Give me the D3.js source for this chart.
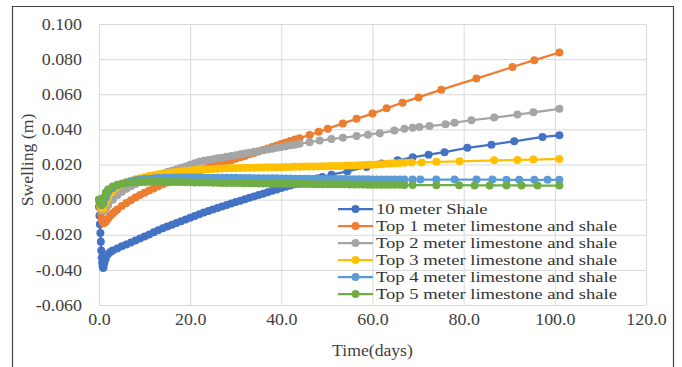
<!DOCTYPE html>
<html>
<head>
<meta charset="utf-8">
<script src="https://d3js.org/d3.v7.min.js"></script>
<style>
  body { margin: 0; background: #fff; }
  svg text { font-family: "Liberation Serif", "Times New Roman", serif; fill: #404040; }
</style>
</head>
<body>
<svg></svg>
<script>
// values: [time (days), swelling (m)]
const shale10 = [[0,-0.004],[0.1,-0.009],[0.2,-0.014],[0.3,-0.019],[0.4,-0.024],[0.5,-0.029],[0.6,-0.033],[0.7,-0.036],[0.8,-0.038],[0.9,-0.039],[1,-0.0385],[1.2,-0.036],[1.5,-0.0335],[2,-0.031],[2.5,-0.0298],[3,-0.029],[4,-0.0278],[5,-0.0266],[6,-0.0255],[7,-0.0244],[8,-0.0233],[9,-0.0222],[10,-0.021],[11,-0.0198],[12,-0.0186],[13,-0.0174],[14,-0.0163],[15,-0.0153],[16,-0.0143],[17,-0.0133],[18,-0.0123],[19,-0.0113],[20,-0.0103],[21,-0.0093],[22,-0.0083],[23,-0.0074],[24,-0.0065],[25,-0.0056],[26,-0.0047],[27,-0.0039],[28,-0.003],[29,-0.0022],[30,-0.0014],[31,-0.0006],[32,0.0002],[33,0.001],[34,0.0018],[35,0.0026],[36,0.0034],[37,0.0042],[38,0.005],[39,0.0058],[40,0.0066],[41,0.0073],[42,0.008],[43,0.0087],[44,0.0094],[45,0.0101],[46,0.0108],[47,0.0115],[48,0.0122],[49,0.0129],[51,0.0142],[54.5,0.0161],[58.7,0.0186],[62,0.0205],[65.5,0.0224],[68.8,0.0241],[72.3,0.0256],[75.8,0.027],[80.8,0.0295],[86.1,0.0313],[91.1,0.0332],[97.3,0.0357],[101,0.0366]];
const top1 = [[0,0],[0.2,-0.004],[0.4,-0.008],[0.6,-0.011],[0.8,-0.0128],[1,-0.0134],[1.3,-0.013],[1.6,-0.0121],[2,-0.0107],[2.5,-0.0092],[3,-0.0079],[3.5,-0.0067],[4,-0.0056],[5,-0.0037],[6,-0.0019],[7,-0.0003],[8,0.0012],[9,0.0026],[10,0.0039],[11,0.0052],[12,0.0064],[13,0.0076],[14,0.0087],[15,0.0098],[16,0.0108],[17,0.0118],[18,0.0128],[19,0.0138],[20,0.0147],[21,0.0156],[22,0.0165],[23,0.0174],[24,0.0183],[25,0.0191],[26,0.02],[27,0.0208],[28,0.0216],[29,0.0224],[30,0.0233],[31,0.0241],[32,0.0249],[33,0.0258],[34,0.0266],[35,0.0274],[36,0.0283],[37,0.0291],[38,0.03],[39,0.0308],[40,0.0317],[41,0.0325],[42,0.0334],[43,0.0342],[44,0.035],[46.2,0.0368],[48.2,0.0386],[50.2,0.0404],[53.5,0.0434],[56.5,0.046],[60,0.049],[63.1,0.052],[66.6,0.0552],[70.1,0.0582],[75.1,0.0626],[82.8,0.0689],[90.7,0.0755],[95.5,0.0794],[101,0.0838]];
const top2 = [[0,0],[0.3,-0.004],[0.6,-0.006],[1,-0.0065],[1.5,-0.005],[2,-0.003],[3,0],[4,0.0025],[5,0.0045],[6,0.0062],[7,0.0076],[8,0.0089],[9,0.0101],[10,0.0112],[11,0.0122],[12,0.0131],[13,0.014],[14,0.0149],[15,0.0157],[16,0.0165],[17,0.0173],[18,0.0181],[19,0.0189],[20,0.0198],[21,0.0207],[22,0.0216],[23,0.0221],[24,0.0225],[25,0.023],[26,0.0235],[27,0.0239],[28,0.0244],[29,0.0248],[30,0.0253],[31,0.0258],[32,0.0262],[33,0.0267],[34,0.0272],[35,0.0276],[36,0.0281],[37,0.0286],[38,0.029],[39,0.0295],[40,0.03],[41,0.0304],[42,0.0309],[43,0.0313],[44,0.0318],[46.2,0.0327],[48.4,0.0336],[51,0.0345],[53.5,0.0353],[56.5,0.0362],[59,0.037],[61.6,0.0378],[64.8,0.0393],[67,0.0403],[68.8,0.0409],[70.3,0.0413],[72.5,0.0419],[76,0.0429],[78,0.0438],[81.7,0.0452],[86.7,0.0467],[91.8,0.0484],[95.3,0.0497],[101,0.0517]];
const top3 = [[0,0],[0.3,-0.003],[0.6,-0.005],[1,-0.005],[1.5,-0.002],[2,0.001],[3,0.0048],[4,0.0072],[5,0.0088],[6,0.0099],[7,0.0108],[8,0.0116],[9,0.0122],[10,0.0128],[11,0.0134],[12,0.0139],[13,0.0144],[14,0.0148],[15,0.0152],[16,0.0155],[17,0.0158],[18,0.0161],[19,0.0164],[20,0.0166],[21,0.0168],[22,0.017],[23,0.0172],[24,0.0173],[25,0.0175],[26,0.0176],[27,0.0177],[28,0.0178],[29,0.0179],[30,0.018],[31,0.018],[32,0.0181],[33,0.0182],[34,0.0182],[35,0.0183],[36,0.0183],[37,0.0184],[38,0.0184],[39,0.0185],[40,0.0185],[41,0.0186],[42,0.0186],[43,0.0187],[44,0.0187],[45,0.0188],[46,0.0188],[47,0.0189],[48,0.0189],[49,0.019],[50,0.019],[51,0.0191],[52,0.0192],[53,0.0192],[54,0.0193],[55,0.0194],[56,0.0195],[57,0.0196],[58,0.0197],[59,0.0198],[60,0.0199],[61,0.02],[62,0.0202],[63,0.0204],[64,0.0205],[65,0.0207],[66,0.0208],[67,0.021],[68.6,0.0212],[70.8,0.0212],[74,0.0215],[79.1,0.0218],[86.7,0.0224],[91.8,0.0226],[95.3,0.0228],[101,0.0232]];
const top4 = [[0,0],[0.3,-0.002],[0.6,-0.003],[1,-0.002],[1.5,0.001],[2,0.004],[3,0.0065],[4,0.008],[5,0.009],[6,0.0098],[7,0.0105],[8,0.011],[9,0.0114],[10,0.0117],[11,0.0119],[12,0.0121],[13,0.0123],[14,0.0124],[15,0.0125],[16,0.0125],[17,0.0126],[18,0.0126],[19,0.0126],[20,0.0126],[21,0.0126],[22,0.0126],[23,0.0125],[24,0.0125],[25,0.0125],[26,0.0125],[27,0.0124],[28,0.0124],[29,0.0124],[30,0.0124],[31,0.0123],[32,0.0123],[33,0.0123],[34,0.0122],[35,0.0122],[36,0.0122],[37,0.0121],[38,0.0121],[39,0.0121],[40,0.012],[41,0.012],[42,0.012],[43,0.0119],[44,0.0119],[45,0.0119],[46,0.0119],[47,0.0118],[48,0.0118],[49,0.0118],[50,0.0118],[51,0.0117],[52,0.0117],[53,0.0117],[54,0.0117],[55,0.0116],[56,0.0116],[57,0.0116],[58,0.0116],[59,0.0116],[60,0.0115],[61,0.0115],[62,0.0115],[63,0.0115],[64,0.0115],[65,0.0115],[66,0.0114],[67,0.0114],[68.8,0.0114],[70.5,0.0114],[74,0.0114],[78,0.0114],[82.8,0.0114],[86.3,0.0114],[89.4,0.0113],[92.2,0.0113],[95.5,0.0113],[98.4,0.0113],[101,0.0113]];
const top5 = [[0,0],[0.2,-0.002],[0.5,-0.003],[0.8,-0.001],[1,0.001],[1.5,0.004],[2,0.0058],[3,0.0075],[4,0.0084],[5,0.009],[6,0.0094],[7,0.0097],[8,0.0099],[9,0.01],[10,0.0101],[11,0.0102],[12,0.0102],[13,0.0102],[14,0.0102],[15,0.0101],[16,0.0101],[17,0.01],[18,0.01],[19,0.0099],[20,0.0099],[21,0.0098],[22,0.0098],[23,0.0097],[24,0.0097],[25,0.0096],[26,0.0096],[27,0.0095],[28,0.0095],[29,0.0094],[30,0.0094],[31,0.0094],[32,0.0093],[33,0.0093],[34,0.0093],[35,0.0092],[36,0.0092],[37,0.0092],[38,0.0091],[39,0.0091],[40,0.0091],[41,0.009],[42,0.009],[43,0.009],[44,0.0089],[45,0.0089],[46,0.0089],[47,0.0088],[48,0.0088],[49,0.0088],[50,0.0088],[51,0.0087],[52,0.0087],[53,0.0087],[54,0.0087],[55,0.0086],[56,0.0086],[57,0.0086],[58,0.0086],[59,0.0085],[60,0.0085],[61,0.0085],[62,0.0085],[63,0.0084],[64,0.0084],[65,0.0084],[66,0.0084],[67,0.0083],[68.8,0.0083],[74,0.0082],[79,0.0082],[82.4,0.0081],[85.7,0.0081],[89.4,0.0081],[92.7,0.0081],[96.2,0.008],[101,0.008]];

const seriesNames = ["10 meter Shale", "Top 1 meter limestone and shale", "Top 2 meter limestone and shale",
                     "Top 3 meter limestone and shale", "Top 4 meter limestone and shale", "Top 5 meter limestone and shale"];
const seriesData = [shale10, top1, top2, top3, top4, top5];
const colors = ["#4472C4", "#ED7D31", "#A5A5A5", "#FFC000", "#5B9BD5", "#70AD47"];
const xTicks = [0, 20, 40, 60, 80, 100, 120];
const yTicks = [-0.06, -0.04, -0.02, 0, 0.02, 0.04, 0.06, 0.08, 0.1];

const width = 682;
const height = 367;
const margin = { top: 24, left: 99, right: 36, bottom: 62 };

const canvas = d3.select("svg").attr("width", width).attr("height", height).style("background", "#fff");

const xScale = d3.scaleLinear().domain([0, 120]).range([margin.left, width - margin.right]);
const yScale = d3.scaleLinear().domain([-0.06, 0.1]).range([height - margin.bottom, margin.top]);

// the source picture is a little wider than tall, so texts are stretched sideways
function stretch(sel, k) {
  sel.each(function () {
    const w = this.getComputedTextLength();
    d3.select(this).attr("textLength", w * k).attr("lengthAdjust", "spacingAndGlyphs");
  });
}

// outer frame
canvas.append("path")
  .attr("d", `M12.5,${height + 2}V6.5H673.5V${height + 2}`)
  .attr("fill", "none")
  .attr("stroke", "#444")
  .attr("stroke-width", 1.2);

// axes with gridlines
const yAxis = d3.axisLeft(yScale).tickValues(yTicks)
  .tickSize(-(width - margin.right - margin.left)).tickPadding(17)
  .tickFormat(d => d.toFixed(3));
const xAxis = d3.axisBottom(xScale).tickValues(xTicks)
  .tickSize(-(height - margin.bottom - margin.top)).tickPadding(9)
  .tickFormat(d => d.toFixed(1));

canvas.append("g").attr("class", "axis y")
  .attr("transform", `translate(${margin.left},0)`)
  .call(yAxis);
canvas.append("g").attr("class", "axis x")
  .attr("transform", `translate(0,${height - margin.bottom})`)
  .call(xAxis);

canvas.selectAll(".axis").attr("font-family", null).attr("font-size", null);
canvas.selectAll(".axis .domain").remove();
canvas.selectAll(".axis line").attr("stroke", "#d9d9d9").attr("stroke-width", 1);
canvas.selectAll(".axis text").attr("fill", "#404040").style("font-size", "16px");
stretch(canvas.selectAll(".axis text"), 1.12);

// series
const line = d3.line().x(d => xScale(d[0])).y(d => yScale(d[1]));
seriesData.forEach((data, i) => {
  const g = canvas.append("g");
  g.append("path")
    .datum(data)
    .attr("d", line)
    .attr("fill", "none")
    .attr("stroke", colors[i])
    .attr("stroke-width", 2.25);
  g.selectAll("circle")
    .data(data)
    .enter()
    .append("circle")
    .attr("cx", d => xScale(d[0]))
    .attr("cy", d => yScale(d[1]))
    .attr("r", 4)
    .attr("fill", colors[i]);
});

// legend
const legend = canvas.append("g").attr("transform", "translate(338,209)");
seriesNames.forEach((name, i) => {
  const row = legend.append("g").attr("transform", `translate(0,${i * 17})`);
  row.append("line").attr("x1", 0).attr("x2", 35).attr("y1", 0).attr("y2", 0)
    .attr("stroke", colors[i]).attr("stroke-width", 2.25);
  row.append("circle").attr("cx", 17.5).attr("cy", 0).attr("r", 4).attr("fill", colors[i]);
  row.append("text").attr("class", "legend-text").attr("x", 38).attr("y", 0).attr("dy", "0.33em")
    .style("font-size", "15.5px").style("fill", "#333").text(name);
});
stretch(canvas.selectAll(".legend-text"), 1.2);

// titles
canvas.append("text")
  .attr("class", "title")
  .attr("text-anchor", "middle")
  .attr("x", (margin.left + width - margin.right) / 2)
  .attr("y", 356)
  .style("font-size", "16.5px")
  .text("Time(days)");

canvas.append("text")
  .attr("class", "title")
  .attr("transform", "rotate(-90)")
  .attr("text-anchor", "middle")
  .attr("x", -160)
  .attr("y", 33)
  .style("font-size", "16.5px")
  .text("Swelling (m)");
stretch(canvas.selectAll(".title"), 1.07);
</script>
</body>
</html>
